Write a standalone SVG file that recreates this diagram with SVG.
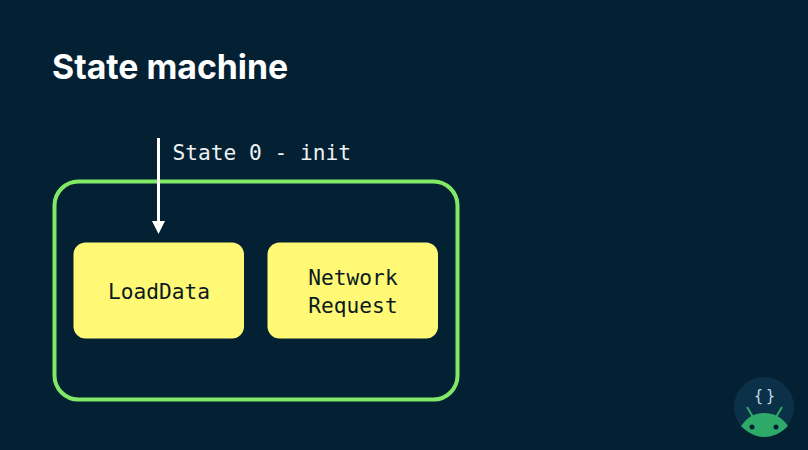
<svg xmlns="http://www.w3.org/2000/svg" width="808" height="450" viewBox="0 0 808 450">
<style>
.mono{font-family:"DejaVu Sans Mono","Liberation Mono",monospace;font-size:21.200px}
.box{fill:#fff976}
.lbl{fill:#0b1a20;text-anchor:middle}
</style>
<defs>
<marker id="arrow" markerUnits="userSpaceOnUse" markerWidth="14" markerHeight="14" refX="0" refY="6.500" orient="auto"><path d="M0 0L13 6.500L0 13Z" fill="#fff"/></marker>
</defs>
<rect width="808" height="450" fill="#032133"/>
<text x="52" y="79" font-family="Inter,Lato,sans-serif" font-weight="700" font-size="33.800" fill="#fff">State machine</text>
<g id="state-machine"><rect x="54.500" y="181.500" width="403" height="218" rx="24" fill="none" stroke="#80ea66" stroke-width="4"/></g>
<g id="load-data"><rect class="box" x="73.500" y="242.500" width="170.500" height="96" rx="12"/><text class="mono lbl" x="159" y="298.500">LoadData</text></g>
<g id="network-request"><rect class="box" x="267.500" y="242.500" width="170.500" height="96" rx="12"/><text class="mono lbl" x="353" y="284.500">Network</text><text class="mono lbl" x="353" y="312.500">Request</text></g>
<g id="connectors"><path d="M158.500 138V221" stroke="#fff" stroke-width="3" fill="none" marker-end="url(#arrow)"/></g>
<text class="mono" x="172.500" y="159.500" fill="#eef2f3">State 0 - init</text>
<g id="logo">
<circle cx="764" cy="407" r="30" fill="#0a3147"/>
<text x="758.500" y="401" text-anchor="middle" font-family="'DejaVu Sans Mono',monospace" font-size="15" fill="#c4dbe6">{</text>
<text x="770.500" y="401" text-anchor="middle" font-family="'DejaVu Sans Mono',monospace" font-size="15" fill="#c4dbe6">}</text>
<path d="M741 426C748 416 756 413 764.500 413C773 413 781 416 788 426C781 433 773 437 764.500 437C756 437 748 433 741 426Z" fill="#2eaa68"/>
<path d="M747 407L753 417M782 407L776 417" stroke="#2eaa68" stroke-width="2"/>
<circle cx="752" cy="427" r="2.500" fill="#032133"/><circle cx="776" cy="427" r="2.500" fill="#032133"/>
</g>
</svg>
